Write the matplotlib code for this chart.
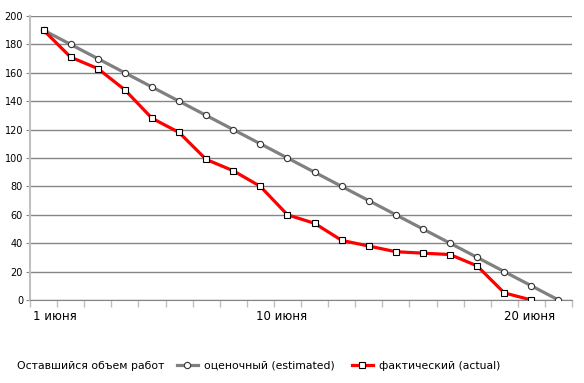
import matplotlib
matplotlib.use("Agg")
import matplotlib.pyplot as plt
from matplotlib.lines import Line2D

days = list(range(1, 21))
estimated = [190, 180, 170, 160, 150, 140, 130, 120, 110, 100,
             90, 80, 70, 60, 50, 40, 30, 20, 10, 0]
actual_days = list(range(1, 20))
actual = [190, 171, 163, 148, 128, 118, 99, 91, 80, 60,
          54, 42, 38, 34, 33, 32, 24, 5, 0]
xtick_pos = [1.42, 9.8, 18.95]
xtick_labels = ["1 июня", "10 июня", "20 июня"]
yticks = list(range(0, 201, 20))

legend_title = "Оставшийся объем работ"
name_est = "оценочный (estimated)"
name_act = "фактический (actual)"

fig = plt.figure(figsize=(5.84, 3.83), dpi=100)
ax = fig.add_axes([30/584, 1-300/383, 542/584, 284/383])

grid_c = "#868686"
ax.set_xlim(0.5, 20.5)
ax.set_ylim(0, 200)
ax.set_yticks(yticks)
ax.set_yticklabels([str(v) for v in yticks],
                   fontfamily=["Liberation Sans Narrow", "DejaVu Sans"], fontsize=7)
ax.yaxis.grid(True, color=grid_c, linewidth=1)
ax.set_axisbelow(True)
for s in ["top", "right"]:
    ax.spines[s].set_visible(False)
ax.spines["left"].set_color("#c0c0c0")
ax.spines["left"].set_linewidth(1.5)
ax.spines["bottom"].set_color(grid_c)
ax.tick_params(axis="y", length=3, color=grid_c, pad=2)
ax.set_xticks([i + 0.5 for i in range(0, 21)])
ax.set_xticklabels([])
ax.tick_params(axis="x", length=5, color="#c0c0c0", width=1)

for p, lab in zip(xtick_pos, xtick_labels):
    ax.text(p, -7, lab, ha="center", va="top", fontsize=8.5, color="black",
            family="DejaVu Sans")

ax.plot(days, estimated, color="#808080", lw=2.3, marker="o", ms=4.5,
        mfc="white", mec="#333333", mew=0.8, zorder=3)
ax.plot(actual_days, actual, color="#ff0000", lw=2.3, marker="s", ms=4.6,
        mfc="white", mec="black", mew=0.8, zorder=4)

fig.text(17/584, 1-366/383, legend_title, ha="left", va="center", fontsize=7.8)
h1 = Line2D([], [], color="#808080", lw=2.3, marker="o", ms=4.5, mfc="white", mec="#333333", mew=0.8)
h2 = Line2D([], [], color="#ff0000", lw=2.3, marker="s", ms=4.6, mfc="white", mec="black", mew=0.8)
fig.legend([h1, h2], [name_est, name_act], loc="center left",
           bbox_to_anchor=(177/584, 1-366/383), ncol=2, frameon=False,
           fontsize=7.8, handlelength=1.9, handletextpad=0.6, columnspacing=1.6,
           borderpad=0, borderaxespad=0)

fig.savefig("out.png", dpi=100)
